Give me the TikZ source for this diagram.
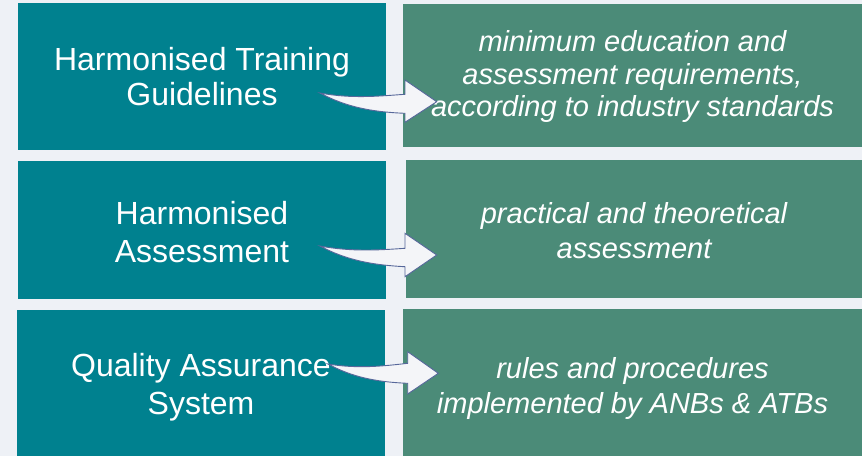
\documentclass[tikz,border=0pt]{standalone}
\usepackage{fontspec}
\setmainfont{Liberation Sans}
\definecolor{bgc}{HTML}{EEF1F6}
\definecolor{tealc}{HTML}{00818F}
\definecolor{greenc}{HTML}{4B8B78}
\definecolor{arrfill}{HTML}{F4F5F8}
\definecolor{arrline}{HTML}{56679A}
\tikzset{
  leftbox/.style={fill=tealc, inner sep=0pt, outer sep=0pt, text=white, align=center,
    minimum width=368pt},
  rightbox/.style={fill=greenc, inner sep=0pt, outer sep=0pt, text=white, align=center},
  blockarrow/.style={fill=arrfill, draw=arrline, line width=0.9pt, line join=miter}
}
\begin{document}
\begin{tikzpicture}[x=1pt,y=-1pt]
\useasboundingbox (0,0) rectangle (862,456);
\fill[bgc] (0,0) rectangle (862,456);
% left boxes
\fill[tealc] (18,3) rectangle (386,149);
\fill[tealc] (18,160.7) rectangle (386,298.7);
\fill[tealc] (17,310) rectangle (385,456);
\node[leftbox, minimum height=146pt, font=\fontsize{32}{35.7}\selectfont] (l1) at (202,76.5) {Harmonised Training\\Guidelines};
\node[leftbox, minimum height=138pt, font=\fontsize{32}{37.5}\selectfont, fill=none] (l2) at (202,232) {Harmonised\\Assessment};
\node[leftbox, minimum height=146pt, font=\fontsize{32}{38.2}\selectfont, fill=none] (l3) at (201,387) {Quality Assurance\\System};
% right boxes
\fill[greenc] (403,4) rectangle (862,147);
\fill[greenc] (406,159.7) rectangle (862,298);
\fill[greenc] (403,309) rectangle (862,456);
\node[rightbox, fill=none, font=\fontsize{29}{32.5}\selectfont\itshape] (r1) at (632.5,76.5) {minimum education and\\assessment requirements,\\according to industry standards};
\node[rightbox, fill=none, font=\fontsize{29}{34.5}\selectfont\itshape] (r2) at (634,230.5) {practical and theoretical\\assessment};
\node[rightbox, fill=none, font=\fontsize{29}{35}\selectfont\itshape] (r3) at (632.5,388.5) {rules and procedures\\implemented by ANBs \& ATBs};
% curved block arrows
\draw[blockarrow] (320,93) .. controls (352,99) and (380,96) .. (405,94.3)
  -- (405,80) -- (436.7,101.7) -- (405,122.3) -- (405,113.3)
  .. controls (372,112) and (346,107) .. cycle;
\draw[blockarrow] (320,246) .. controls (352,252) and (380,250) .. (405,248.3)
  -- (405,233.3) -- (436.7,255) -- (405,276.7) -- (405,266.7)
  .. controls (372,265) and (346,260) .. cycle;
\draw[blockarrow] (328,364) .. controls (358,369) and (384,366) .. (407.7,363.3)
  -- (407.7,351.7) -- (438.3,373.3) -- (407.7,394) -- (407.7,383.3)
  .. controls (376,382) and (352,377) .. cycle;
\end{tikzpicture}
\end{document}
